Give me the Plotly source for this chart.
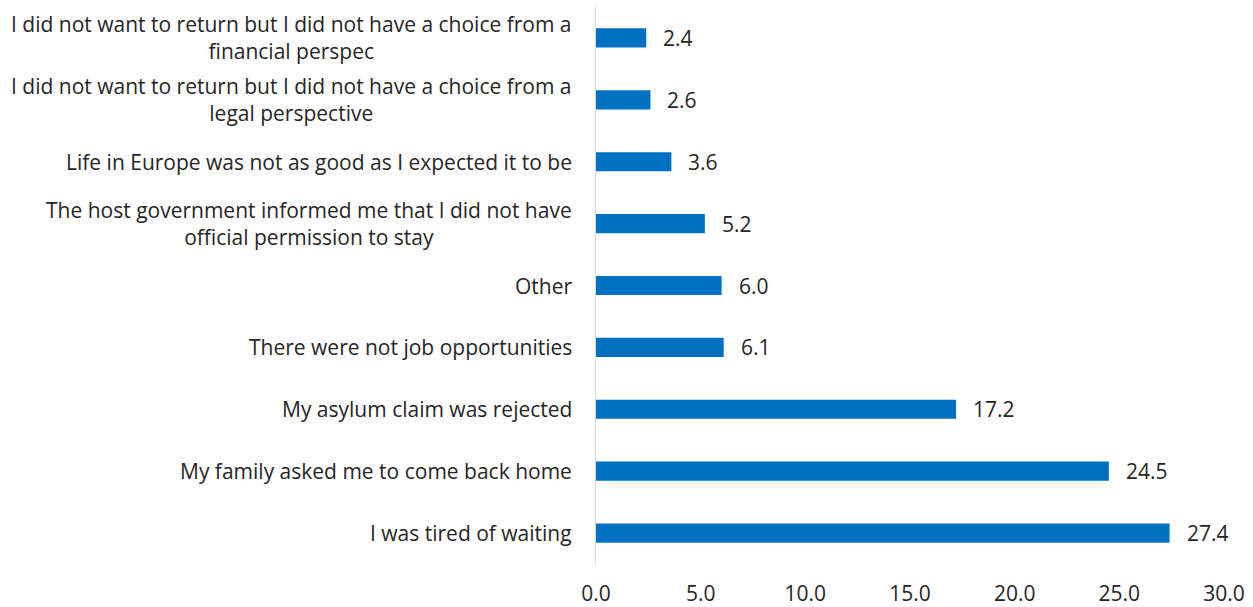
import plotly.graph_objects as go

# Reasons for returning, listed bottom to top as drawn
reasons = [
    "I was tired of waiting",
    "My family asked me to come back home",
    "My asylum claim was rejected",
    "There were not job opportunities",
    "Other",
    "The host government informed me that I did not have official permission to stay",
    "Life in Europe was not as good as I expected it to be",
    "I did not want to return but I did not have a choice from a legal perspective",
    "I did not want to return but I did not have a choice from a financial perspec",
]
shares = [27.4, 24.5, 17.2, 6.1, 6.0, 5.2, 3.6, 2.6, 2.4]

# Display text with line breaks for the long reasons
display_labels = {
    "The host government informed me that I did not have official permission to stay":
        "The host government informed me that I did not have<br>official permission to stay",
    "I did not want to return but I did not have a choice from a legal perspective":
        "I did not want to return but I did not have a choice from a<br>legal perspective",
    "I did not want to return but I did not have a choice from a financial perspec":
        "I did not want to return but I did not have a choice from a<br>financial perspec",
}

FONT = "Open Sans"
LABEL_SIZE = 21
NUM_SIZE = 21
TEXT_COLOR = "#262626"
BAR_COLOR = "#0070C0"

fig = go.Figure(
    go.Bar(
        x=shares,
        y=reasons,
        orientation="h",
        width=0.31,
        marker=dict(color=BAR_COLOR, line=dict(width=0)),
        hoverinfo="x+y",
    )
)

# Category labels, centred line by line, to the left of the axis
annotations = [
    dict(
        x=0, xref="paper", y=r, yref="y",
        text=display_labels.get(r, r),
        xanchor="right", yanchor="middle", align="center",
        xshift=-22, showarrow=False,
        font=dict(family=FONT, size=LABEL_SIZE, color=TEXT_COLOR),
    )
    for r in reasons
]

# Value labels past each bar end
annotations += [
    dict(
        x=v, xref="x", y=r, yref="y",
        text=f"{v:.1f}",
        xanchor="left", yanchor="middle",
        xshift=15, showarrow=False,
        font=dict(family=FONT, size=NUM_SIZE, color=TEXT_COLOR),
    )
    for r, v in zip(reasons, shares)
]

fig.update_layout(
    width=1253, height=607,
    margin=dict(l=596, r=29, t=7, b=43),
    paper_bgcolor="white", plot_bgcolor="white",
    showlegend=False,
    annotations=annotations,
    xaxis=dict(
        range=[0, 30], dtick=5, tickformat=".1f",
        showgrid=False, zeroline=False, showline=False,
        tickfont=dict(family=FONT, size=NUM_SIZE, color=TEXT_COLOR),
        ticks="", ticklen=0, ticklabelstandoff=15,
        automargin=False,
    ),
    yaxis=dict(
        type="category", categoryorder="array", categoryarray=reasons,
        showticklabels=False, ticks="",
        showgrid=False, zeroline=False,
        showline=True, linecolor="#d9d9d9", linewidth=1,
        automargin=False,
    ),
)

fig.write_html("out.html")
